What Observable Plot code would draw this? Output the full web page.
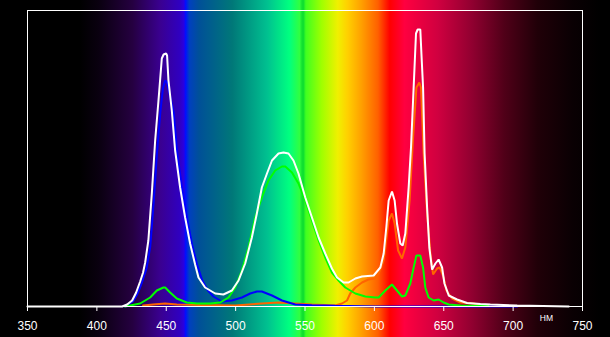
<!DOCTYPE html>
<html><head><meta charset="utf-8">
<script src="https://cdn.jsdelivr.net/npm/d3@7"></script>
<script src="https://cdn.jsdelivr.net/npm/@observablehq/plot@0.6"></script>
<style>
html,body{margin:0;padding:0;background:#000;}
#chart{width:610px;height:337px;overflow:hidden;}
</style>
</head><body><div id="chart"></div>
<script>
// Axis ticks (nm)
const tickValues = [350, 400, 450, 500, 550, 600, 650, 700, 750];
const unitLabel = "НМ";

// Spectrum background stops (nm, colour)
const bgNm = [350, 388, 402, 426, 446, 460, 463, 464.3, 467, 474, 498, 523, 539, 546.5, 548.3, 549.3, 551, 562.5, 574, 581, 591, 603, 608.6, 611.5, 622, 646, 671, 694, 718, 743, 763];
const bgColor = ["#000000", "#000000", "#0a0010", "#250040", "#3a0090", "#3000c0", "#2a00e0", "#0010ff", "#0040c0", "#005098", "#007878", "#00c090", "#00ff80", "#30ff40", "#10e030", "#10e030", "#40ff20", "#a0ff00", "#f0f000", "#ffd000", "#ffa000", "#ff6000", "#ff2000", "#ff0000", "#ff0040", "#d00040", "#900030", "#500018", "#200008", "#0a0003", "#000000"];

// Total (white)
const whiteNm = [350, 418.2, 421.8, 425.4, 428.3, 431.2, 433.3, 434.8, 437.1, 439.6, 442.0, 444.4, 446.8, 448.1, 449.9, 450.6, 451.6, 454.0, 456.4, 460.0, 463.6, 467.2, 470.8, 473.2, 478.0, 485.3, 491.2, 497.3, 502.1, 506.9, 511.7, 515.3, 518.9, 522.6, 526.2, 530.9, 534.5, 538.1, 541.7, 545.3, 550.2, 555.0, 559.8, 564.6, 569.4, 573.1, 577.8, 581.4, 586.3, 591.1, 599.5, 604.3, 606.7, 608.6, 610.3, 612.7, 614.6, 616.3, 618.7, 620.4, 622.3, 624.7, 626.4, 628.3, 630.0, 631.2, 633.1, 633.9, 635.1, 636.2, 638.0, 639.6, 641.6, 644.0, 646.3, 648.8, 650.5, 653.6, 659.6, 666.8, 676.4, 683.6, 702.9, 740.1];
const whiteVal = [0, 0, 2, 6, 14, 25, 34, 44, 66, 113, 166, 206, 248, 252, 253, 251, 226, 196, 156, 119, 89, 63, 42, 29, 19, 13, 12, 16, 26, 43, 69, 93, 119, 133, 146, 153, 154, 153, 146, 133, 109, 89, 69, 53, 38, 29, 24, 24, 28, 30, 31, 39, 53, 79, 106, 115, 106, 83, 63, 61, 73, 119, 159, 219, 273, 277, 277, 253, 219, 153, 99, 59, 37, 43, 47, 39, 23, 11, 7, 3.5, 2.5, 2, 1, 0];

// Blue channel
const blueNm = [420.3, 426.0, 429.0, 432.0, 435.8, 438.5, 441.0, 443.4, 445.8, 447.6, 449.2, 450.6, 452.0, 455.4, 457.8, 461.4, 465.0, 468.6, 472.2, 476.0, 480.0, 484.0, 490.1, 497.3, 504.5, 510.5, 515.3, 518.9, 526.2, 533.4, 543.0, 555.0, 571.8, 600.7, 703];
const blueVal = [0, 5, 12, 22, 38, 60, 105, 155, 195, 218, 226, 224, 215, 194, 155, 118, 88, 62, 42, 26, 16, 10, 5, 6, 9, 13, 15, 15, 11, 6, 2, 1.3, 0.7, 0, 0];

// Green channel
const greenNm = [420.3, 431.2, 438.4, 443.2, 448.0, 449.2, 452.8, 457.6, 464.8, 472.1, 481.7, 488.9, 494.9, 499.7, 504.5, 509.3, 514.1, 518.9, 523.7, 528.5, 533.4, 535.8, 540.6, 545.3, 550.2, 555.0, 559.8, 564.6, 569.4, 574.2, 579.0, 586.3, 593.5, 600.7, 603.1, 607.9, 612.7, 616.3, 619.9, 622.3, 625.9, 628.3, 630.3, 633.1, 635.1, 636.7, 639.1, 642.7, 646.3, 649.9, 653.6, 662.0, 682.2];
const greenVal = [0, 3, 9, 16, 19, 19, 14, 8, 4, 3, 3, 4, 9, 19, 36, 59, 89, 109, 126, 136, 140, 140, 134, 123, 106, 86, 66, 49, 34, 26, 19, 13, 10, 9, 9, 16, 22, 16, 10, 11, 23, 39, 51, 51, 39, 19, 9, 6, 7, 4, 2, 1, 0.7];

// Red channel (orange)
const redNm = [433.3, 440.5, 449.2, 457.6, 474.4, 499.7, 518.9, 530.7, 543.0, 555.0, 571.8, 576.7, 580.3, 582.6, 586.3, 591.1, 595.8, 600.7, 603.1, 606.7, 610.3, 612.7, 614.6, 617.1, 619.9, 622.3, 625.4, 627.9, 630.3, 632.4, 633.6, 635.5, 638.0, 640.4, 642.3, 645.2, 647.1, 649.9, 651.9, 656.0, 662.0, 671.6, 674.0, 678.8, 680];
const redVal = [1, 2, 3, 2, 1.5, 1, 3, 4, 3, 2, 1, 3, 6, 13, 19, 24, 27, 28, 33, 46, 86, 93, 83, 56, 48, 59, 106, 169, 219, 224, 219, 153, 93, 53, 32, 38, 39, 29, 16, 8, 4, 3, 2, 1, 0.5];

const toRows = (nm, val) => nm.map((x, i) => ({nm: x, v: val[i]}));
const series = [
  {rows: toRows(redNm, redVal), color: "#ff6400"},
  {rows: toRows(blueNm, blueVal), color: "#0000ff"},
  {rows: toRows(greenNm, greenVal), color: "#00ff00"},
  {rows: toRows(whiteNm, whiteVal), color: "#ffffff"}
];

const plot = Plot.plot({
  width: 610,
  height: 337,
  marginLeft: 27,
  marginRight: 28,
  marginTop: 10,
  marginBottom: 31,
  style: {background: "transparent", color: "#fff", fontFamily: "'Liberation Sans', Arial, sans-serif", fontSize: "12px"},
  x: {domain: [350, 750], label: null},
  y: {domain: [0, 296], axis: null, label: null},
  marks: [
    ...series.map(s => Plot.line(s.rows, {x: "nm", y: "v", stroke: s.color, strokeWidth: 2, strokeLinejoin: "miter"})),
    Plot.frame({stroke: "#fff", strokeWidth: 1}),
    Plot.axisX({ticks: tickValues, tickFormat: d => String(d), tickSize: 5, tickPadding: 10, stroke: "#fff", fill: "#fff", fontSize: 12, label: null}),
    Plot.text([unitLabel], {x: [724], frameAnchor: "bottom", dy: 14, fill: "#fff", fontSize: 8.5})
  ]
});

// Spectrum gradient placed through the x scale
const xs = plot.scale("x");
const stops = bgNm.map((nm, i) => `${bgColor[i]} ${xs.apply(nm).toFixed(1)}px`).join(", ");
plot.style.background = `linear-gradient(to right, #000 0px, ${stops}, #000 610px)`;
document.getElementById("chart").appendChild(plot);
</script>
</body></html>
